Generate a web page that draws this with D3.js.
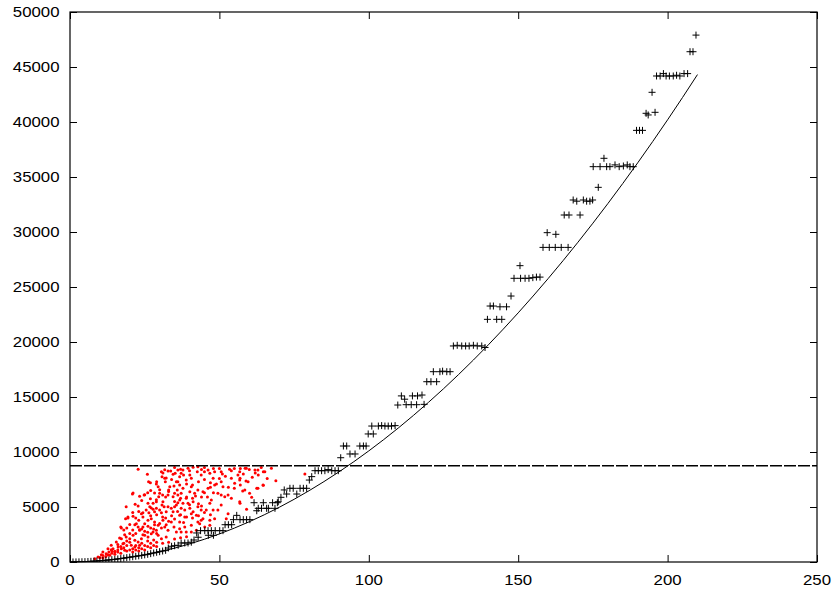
<!DOCTYPE html>
<html>
<head>
<meta charset="utf-8">
<script src="https://cdn.jsdelivr.net/npm/d3@7"></script>
<style>
html,body{margin:0;padding:0;background:#fff;}
svg{display:block;}
text{font-family:"Liberation Sans",Arial,Helvetica,sans-serif;font-size:15px;fill:#000;}
</style>
</head>
<body>
<svg id="chart" width="834" height="592"></svg>
<script>
// ---- data ----
const xTicks = [0, 50, 100, 150, 200, 250];
const yTicks = [0, 5000, 10000, 15000, 20000, 25000, 30000, 35000, 40000, 45000, 50000];
const thresholdValue = 8740;

// smooth reference curve (x, y)
const curveX = [0,5,10,15,20,25,30,35,40,45,50,55,60,65,70,75,80,85,90,95,100,105,110,115,120,125,130,135,140,145,150,155,160,165,170,175,180,185,190,195,200,205,210];
const curveY = [0,30,110,240,420,650,930,1260,1640,2070,2550,3080,3660,4290,4970,5700,6480,7310,8190,9120,10100,11130,12210,13340,14520,15750,17030,18360,19740,21170,22650,24180,25760,27390,29070,30800,32580,34410,36290,38220,40200,42230,44310];

// black "+" series
const plusPoints = [[0,0],[1,5],[2,10],[3,15],[4,25],[5,35],[6,45],[7,60],[8,75],[9,95],[10,115],[11,135],[12,160],[13,185],[14,215],[15,245],[16,280],[17,315],[18,355],[19,395],[20,440],[21,480],[22,520],[23,560],[24,600],[25,650],[26,700],[27,760],[28,820],[29,880],[30,940],[31,1000],[32,1060],[32.9,1270],[34,1430],[35,1480],[36.2,1520],[37.2,1730],[38.4,1730],[39.5,1730],[40.6,1800],[41.5,2000],[42.4,2640],[42.9,2250],[43.7,2850],[45.1,2850],[46.2,2850],[46.3,2430],[47.3,2850],[48,2430],[48.6,2850],[50.1,2850],[51.2,2850],[51.9,3390],[53,3390],[54.1,3390],[54.7,3850],[55.8,4240],[56.9,3850],[58,3850],[59.1,3850],[60.2,3850],[61.6,5390],[62.5,4660],[63,4880],[64.1,4880],[64.7,5390],[65.8,4880],[66.4,4880],[67.8,5390],[68.6,4880],[69.4,5390],[69.7,5480],[70.6,5880],[71.7,6550],[72.5,6180],[73.6,6700],[74.7,6700],[75.9,6180],[77,6700],[78.1,6700],[79.2,6700],[80.1,7450],[80.9,7760],[82,8300],[83.1,8300],[84.2,8300],[85.3,8300],[86.4,8400],[87.6,8300],[88.7,8300],[89.8,8300],[90.6,9480],[91.5,10545],[92.6,10545],[93.7,9820],[95.4,9820],[97,10545],[98.2,10545],[99.1,10545],[99.8,11640],[101.5,11640],[101,12360],[103.2,12360],[104.3,12400],[105.4,12360],[106.5,12360],[107.6,12360],[108.8,12400],[109.7,14270],[110.9,15100],[112,14800],[112.5,14300],[114.2,14300],[114.6,15100],[116,14300],[116.3,15100],[117.8,15180],[118.5,14330],[119.4,16390],[120.8,16390],[121.6,17300],[122.7,16390],[123.8,17300],[124.7,17350],[126.1,17300],[127.2,17300],[128.3,19640],[129.6,19700],[131.1,19640],[132.4,19640],[133.6,19640],[135,19700],[136.3,19640],[137.8,19640],[138.9,19500],[139.7,22060],[140.6,23270],[141.7,23270],[142.8,22060],[143.9,23200],[144.5,22060],[146.1,23200],[147.6,24180],[148.6,25790],[150.6,26940],[150.8,25790],[152.3,25790],[153.6,25790],[154.9,25850],[156.1,25900],[157.3,25900],[158.3,28600],[159.7,29940],[160.4,28600],[162.4,28600],[162.6,29790],[164.4,28600],[165.4,31545],[166.7,28600],[167,31545],[168.4,32910],[169.6,32800],[170.7,31545],[171.8,32910],[172.9,32800],[174,32800],[174.9,32910],[175.1,35940],[176.8,34060],[177.4,35940],[178.7,36700],[179.6,35940],[180.7,35940],[182.4,36100],[183.8,35940],[185.2,36000],[186.5,36100],[187.4,35940],[188.5,35940],[189.6,39240],[190.6,39240],[191.6,39240],[192.8,40790],[193.5,40640],[194.8,42700],[195.8,40880],[196.3,44182],[197.5,44182],[198.6,44400],[199.5,44182],[200.6,44182],[201.9,44182],[203,44250],[204.1,44182],[205.5,44400],[206.7,44400],[207.5,46390],[208.5,46390],[209.5,47900]];

// red dot series
const redPoints = [[22.8,8430],[25.9,7970],[26.3,7300],[26.9,7210],[20.9,6180],[24.8,6090],[18.8,5030],[21.8,5250],[22.8,5090],[26.9,5760],[26.1,5340],[26.7,5030],[28.9,7090],[29.5,6850],[30.6,8210],[30.8,7760],[31.7,7610],[31.9,7300],[32.8,8270],[33.7,8270],[34.5,7970],[35.2,8060],[36.1,8360],[30.0,6250],[29.7,5940],[31.1,5480],[30.8,5180],[31.5,5030],[32.8,6090],[33.0,6550],[33.4,6850],[34.8,6910],[35.6,7300],[35.9,6550],[35.0,6250],[34.5,5940],[36.1,5390],[35.6,5180],[35.0,5030],[28.9,5480],[27.8,5340],[28.9,4880],[27.8,4790],[28.3,4570],[25.5,4730],[24.4,4480],[32.8,5030],[32.2,4570],[33.9,4880],[34.5,4570],[30.0,4730],[30.6,4480],[26.4,4480],
[19.4,4090],[18.6,3940],[23.9,4390],[24.4,4090],[17.0,3180],[22.2,3480],[22.8,3180],[23.3,2880],[24.4,3180],[25.0,3480],[26.1,3790],[27.2,3940],[28.3,3640],[29.5,3340],[28.9,2880],[27.8,2730],[31.1,3790],[31.7,3180],[32.8,2880],[33.9,3640],[34.8,3180],[35.6,2730],[17.2,2120],[15.5,1820],[17.7,1660],[18.8,2270],[20.0,2120],[21.1,2430],[21.7,1970],[22.8,1820],[23.9,2120],[25.0,2430],[26.1,2270],[27.2,2570],[29.5,2430],[30.6,2120],[32.2,2270],[13.8,1520],[14.4,1210],[12.7,1210],[16.1,1360],[17.2,1210],[18.3,1060],[20.5,1520],[21.7,1360],[23.3,1520],[11.0,910],[12.1,760],[10.5,660],[15.0,910],[13.3,610],[9.4,450],[8.3,300],
[37.0,8430],[37.8,8360],[39.5,8520],[41.2,8610],[42.8,8660],[37.2,8060],[36.7,7760],[40.1,7910],[40.6,7610],[38.9,7450],[42.6,8210],[43.9,7910],[46.2,8360],[46.8,8060],[48.4,8210],[50.6,8210],[53.4,8430],[56.8,8210],[59.0,8520],[62.9,8360],[65.2,8210],[67.4,8520],[36.1,7300],[36.7,7000],[37.8,6700],[37.2,6250],[40.6,6850],[40.1,6390],[41.7,6250],[42.8,6550],[44.5,6390],[46.2,6700],[47.9,7610],[48.4,7000],[50.6,7300],[51.2,6850],[54.0,7610],[55.1,7160],[56.2,7910],[56.8,7450],[59.6,7300],[58.5,6550],[60.1,6250],[64.6,7000],[62.9,6700],[49.5,6250],[50.6,6090],[51.8,5940],[52.9,6090],[54.0,5790],[47.3,5640],[46.8,5340],[56.8,5480],[36.1,6090],[36.7,5640],[37.8,5340],[38.9,5790],[39.5,5340],[41.2,5480],[42.8,5030],[43.9,4730],[37.2,4880],[38.4,4730],[40.1,4880],[41.2,4570],[47.9,4730],[45.6,4730],[50.6,5180],[49.5,4730],
[36.7,4250],[38.4,4090],[40.6,4390],[42.3,4250],[36.7,3640],[38.4,3180],[40.6,3340],[42.8,3640],[44.5,3940],[46.8,3790],[48.4,3940],[52.3,3940],[52.9,4390],[36.7,3030],[37.2,2730],[38.9,2730],[40.6,2730],[42.3,2880],[45.1,3180],[46.8,3340],[43.4,3480],[43.9,3790],
[31.1,8090],[31.7,8390],[32.2,7640],[21.1,6270],[23.3,5970],[25.0,6120],[19.4,4000],[21.1,4150],[28.3,6270],[28.9,5660],[30.0,6570],[27.2,4910],[16.6,2180],[18.3,2480],[17.2,3090],[21.7,3390],[23.3,2940],[24.4,2480],[26.1,3250],[28.3,3390],[30.6,3090],[32.2,3390],[13.8,1120],[15.0,970],[12.7,660],[11.0,360],
[58.6,8520],[61.9,8360],[64.7,8210],[56.9,7610],[58.9,7360],[68.9,7390],[64.7,6970],[62.5,6700],[78.6,8000],[57.8,6450],[60.8,5880],[59.1,4790],[56.9,5340],
[16,1600],[17,1400],[18,1700],[19,1500],[19,1900],[20,1100],[20,1800],[21,1200],[22,1100],[22,1500],[23,1300],[24,1200],[24,1700],[25,1500],[26,1400],[26,1900],[27,1700],[28,1500],[28,2000],[29,1800],[14,800],[15,700],[16,900],[17,800],[18,1300],[19,1000],[13,900],[12,500],[11,600],[10,400],[14,1000],[16,1100],[21,900],[23,1000],[25,1100],[27,1300],[29,1400],[31,1700],[33,1800],[35,2100],[37,2200],[39,2300],
[20,2600],[21,2900],[22,2600],[23,3800],[24,3000],[25,2800],[26,2700],[27,3100],[28,3000],[29,2600],[30,3500],[31,4100],[32,4000],[33,3700],[34,4200],[35,3900],[36,4600],[37,4300],[38,3600],[39,4100],[40,5200],[41,5800],[42,6000],[43,5300],[44,5900],[45,6300],[46,5900],[47,6800],[48,6300],[49,7100],[50,7600],[52,7800],[53,6800],[55,6700],[57,7000],[58,8000],[61,7700],[63,7900],[60,8400],[44,8400],[45,8200],[48,8500],[51,8000],[54,8300],[39,7100],[38,7900],[34,7500],[33,6400],[29,7300],[27,6500],[26,6300],[24,5600],[23,4600],[22,4000],[21,4500],[20,3400],[19,3100],[18,2900],[27,4200],[29,4300],[31,6100],[32,5900],[35,5500],[37,5800],[39,5900],[41,4000],[43,4200],[45,4500],[47,4300],[44,5100],[41,7000],[43,7300],[45,7500],[47,7200],[35,8600],[40,8300],[45,8600],[50,8500],[55,8500],[57,8500],[62,8100],[66,7600],[64,8600]];

// ---- layout ----
const plot = {left: 70, right: 817, top: 12, bottom: 562};
const tickLen = 7;
const textSX = 1.12;

const svg = d3.select("#chart");
const x = d3.scaleLinear().domain([0, 250]).range([plot.left, plot.right]);
const y = d3.scaleLinear().domain([0, 50000]).range([plot.bottom, plot.top]);

svg.append("defs").append("clipPath").attr("id", "clip")
  .append("rect").attr("x", plot.left).attr("y", plot.top)
  .attr("width", plot.right - plot.left).attr("height", plot.bottom - plot.top);

// red dots
svg.append("g").attr("clip-path", "url(#clip)")
  .selectAll("circle").data(redPoints).join("circle")
  .attr("cx", d => x(d[0])).attr("cy", d => y(d[1]))
  .attr("r", 1.5).attr("fill", "#ff0000");

// black plus markers
const ps = 3.5;
svg.append("g").attr("clip-path", "url(#clip)")
  .selectAll("path").data(plusPoints).join("path")
  .attr("d", d => {
    const cx = x(d[0]), cy = y(d[1]);
    return `M${cx - ps},${cy}H${cx + ps}M${cx},${cy - ps}V${cy + ps}`;
  })
  .attr("stroke", "#000").attr("stroke-width", 1).attr("fill", "none");

// curve
const curveData = curveX.map((v, i) => [v, curveY[i]]);
svg.append("path").datum(curveData)
  .attr("d", d3.line().x(d => x(d[0])).y(d => y(d[1])).curve(d3.curveMonotoneX))
  .attr("fill", "none").attr("stroke", "#000").attr("stroke-width", 1);

// threshold dashed line
svg.append("line")
  .attr("x1", plot.left).attr("x2", plot.right)
  .attr("y1", y(thresholdValue)).attr("y2", y(thresholdValue))
  .attr("stroke", "#000").attr("stroke-width", 1.5).attr("stroke-dasharray", "12,2");

// axes (ticks inward, mirrored)
const axB = d3.axisBottom(x).tickValues(xTicks).tickSize(-tickLen).tickFormat("");
const axT = d3.axisTop(x).tickValues(xTicks).tickSize(-tickLen).tickFormat("");
const axL = d3.axisLeft(y).tickValues(yTicks).tickSize(-tickLen).tickFormat("");
const axR = d3.axisRight(y).tickValues(yTicks).tickSize(-tickLen).tickFormat("");
[[axB, `translate(0,${plot.bottom})`], [axT, `translate(0,${plot.top})`],
 [axL, `translate(${plot.left},0)`], [axR, `translate(${plot.right},0)`]].forEach(([ax, tr]) => {
  const g = svg.append("g").attr("transform", tr).call(ax);
  g.select(".domain").remove();
  g.selectAll(".tick line").attr("stroke", "#000").attr("stroke-width", 1);
});

// frame
svg.append("rect").attr("x", plot.left).attr("y", plot.top)
  .attr("width", plot.right - plot.left).attr("height", plot.bottom - plot.top)
  .attr("fill", "none").attr("stroke", "#000").attr("stroke-width", 1.2);

// tick labels
svg.append("g").selectAll("text").data(xTicks).join("text")
  .attr("transform", d => `translate(${x(d)},${plot.bottom + 23}) scale(${textSX},1)`)
  .attr("text-anchor", "middle").text(d => d);
svg.append("g").selectAll("text").data(yTicks).join("text")
  .attr("transform", d => `translate(${plot.left - 10.5},${y(d) + 5.3}) scale(${textSX},1)`)
  .attr("text-anchor", "end").text(d => d);
</script>
